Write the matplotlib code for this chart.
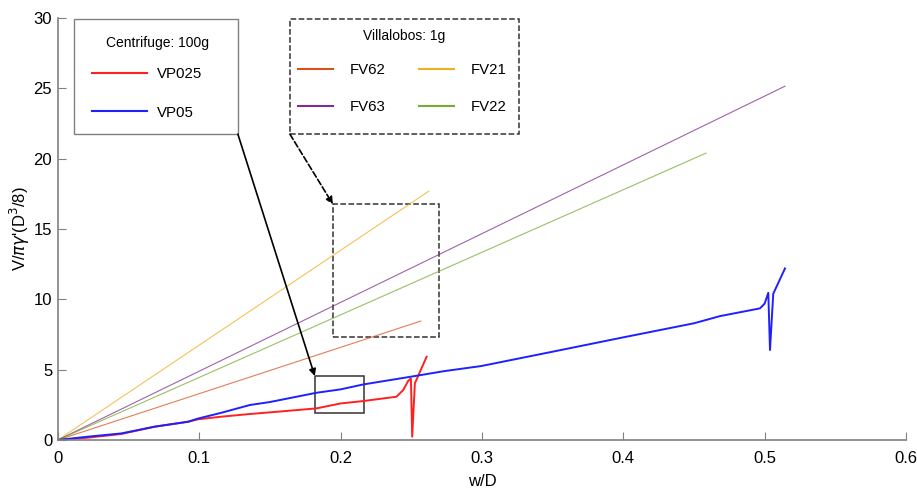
import matplotlib.pyplot as plt
from matplotlib.lines import Line2D
from matplotlib.patches import Rectangle

plt.rcParams['font.family'] = ['Liberation Sans', 'DejaVu Sans']

# centrifuge tests
vp025_x = [0, 0.0215, 0.045, 0.0686, 0.0922, 0.099, 0.1158, 0.1359, 0.16, 0.183,
           0.2, 0.216, 0.2396, 0.2443, 0.2479, 0.2498, 0.2507, 0.2526, 0.2609]
vp025_y = [0, 0.17, 0.43, 0.95, 1.3, 1.47, 1.66, 1.85, 2.05, 2.25,
           2.6, 2.77, 3.08, 3.55, 4.21, 4.38, 0.24, 4.03, 5.92]

vp05_x = [0, 0.0215, 0.045, 0.0686, 0.0922, 0.099, 0.1158, 0.1359, 0.15, 0.183,
          0.2, 0.216, 0.2496, 0.2735, 0.2995, 0.35, 0.4, 0.45, 0.4684, 0.4967,
          0.5, 0.5026, 0.5038, 0.5061, 0.5144]
vp05_y = [0, 0.24, 0.47, 0.95, 1.3, 1.52, 1.94, 2.49, 2.7, 3.36,
          3.6, 3.95, 4.5, 4.9, 5.26, 6.28, 7.3, 8.3, 8.81, 9.36,
          9.7, 10.47, 6.4, 10.4, 12.2]

# Villalobos 1g tests, straight lines from the origin
fv_names = ['FV62', 'FV21', 'FV63', 'FV22']
fv_xend = [0.2568, 0.2625, 0.5144, 0.4585]
fv_yend = [8.46, 17.7, 25.16, 20.4]
fv_colors = ['#D95319', '#EDB120', '#7E2F8E', '#77AC30']

W, H = 917, 490
fig = plt.figure(figsize=(W / 100, H / 100), dpi=100)
ax = fig.add_axes([0.063, 0.102, 0.925, 0.861])

for name, xe, ye, c in zip(fv_names, fv_xend, fv_yend, fv_colors):
    ax.plot([0, xe], [0, ye], color=c, lw=0.8, alpha=0.75)
ax.plot(vp025_x, vp025_y, color='#FF2020', lw=1.4)
ax.plot(vp05_x, vp05_y, color='#2020FF', lw=1.4)

ax.set_xlim(0, 0.6)
ax.set_ylim(0, 30)
ax.set_xticks([0, 0.1, 0.2, 0.3, 0.4, 0.5, 0.6])
ax.set_xticklabels(['0', '0.1', '0.2', '0.3', '0.4', '0.5', '0.6'])
ax.set_yticks([0, 5, 10, 15, 20, 25, 30])
ax.tick_params(direction='in', length=6, color='#808080', labelsize=12)
ax.tick_params(axis='x', pad=8)
ax.tick_params(axis='y', pad=4)
for s in ['top', 'right']:
    ax.spines[s].set_visible(False)
for s in ['left', 'bottom']:
    ax.spines[s].set_color('#808080')
    ax.spines[s].set_linewidth(1.2)
ax.set_xlabel('w/D', fontsize=12, labelpad=6)
ax.set_ylabel(r"V/$\pi\gamma$'(D$^3$/8)", fontsize=12, labelpad=1)

# zoom boxes
ax.add_patch(Rectangle((0.1818, 1.92), 0.0347, 2.63, fill=False, ec='#333333', lw=1.1))
ax.add_patch(Rectangle((0.1946, 7.32), 0.075, 9.45, fill=False, ec='#333333', lw=1.1, ls='--'))

# legend frames
ax.add_patch(Rectangle((0.0113, 21.75), 0.1161, 8.18, fill=False, ec='#808080', lw=1.0,
                       clip_on=False))
ax.add_patch(Rectangle((0.1642, 21.75), 0.162, 8.18, fill=False, ec='#333333', lw=1.1, ls='--',
                       clip_on=False))

ax.annotate('', xy=(0.1818, 4.55), xytext=(0.1274, 21.75),
            arrowprops=dict(arrowstyle='-|>', color='black', lw=1.2, shrinkA=0, shrinkB=0))
ax.annotate('', xy=(0.1946, 16.77), xytext=(0.1642, 21.75),
            arrowprops=dict(arrowstyle='-|>', color='black', lw=1.2, ls='--', shrinkA=0, shrinkB=0))

h1 = [Line2D([], [], color='#FF2020', lw=1.5), Line2D([], [], color='#2020FF', lw=1.5)]
leg1 = ax.legend(h1, ['VP025', 'VP05'], loc='upper left',
                 bbox_to_anchor=(92 / W, 1 - 67 / H), bbox_transform=fig.transFigure,
                 frameon=False, fontsize=10.8, handlelength=3.65, handletextpad=0.65,
                 labelspacing=1.65, borderpad=0, borderaxespad=0)
ax.add_artist(leg1)
fig.text(157.5 / W, 1 - 42.7 / H, 'Centrifuge: 100g', fontsize=10, ha='center', va='center')

h2 = [Line2D([], [], color=c, lw=1.5) for c in fv_colors]
leg2 = ax.legend([h2[0], h2[2], h2[1], h2[3]], ['FV62', 'FV63', 'FV21', 'FV22'],
                 loc='upper left', ncol=2,
                 bbox_to_anchor=(298 / W, 1 - 63 / H), bbox_transform=fig.transFigure,
                 frameon=False, fontsize=10.8, handlelength=2.33, handletextpad=1.13,
                 labelspacing=1.53, columnspacing=2.2, borderpad=0, borderaxespad=0)
fig.text(404 / W, 1 - 36 / H, 'Villalobos: 1g', fontsize=10, ha='center', va='center')

fig.savefig('out.png', dpi=100)
